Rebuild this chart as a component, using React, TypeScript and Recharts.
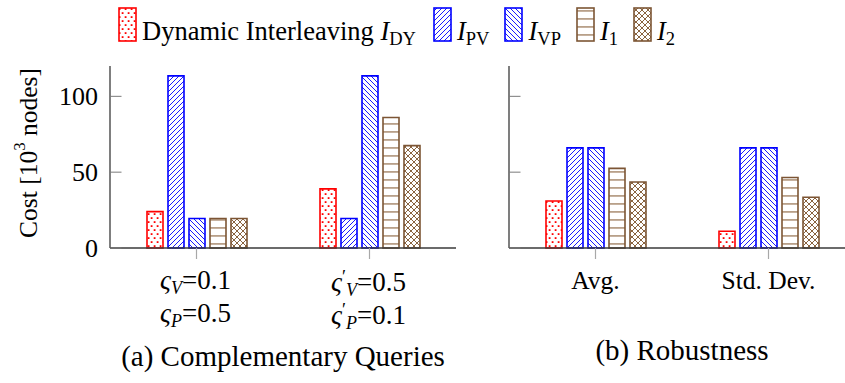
import React from 'react';
import { BarChart, Bar, XAxis, YAxis, Legend } from 'recharts';

// ---------- data ----------
const seriesKeys = ['dy', 'pv', 'vp', 'i1', 'i2'];
const seriesNames = ['Dynamic Interleaving I_DY', 'I_PV', 'I_VP', 'I_1', 'I_2'];

const compCategories = ['ςV=0.1 ςP=0.5', "ς'V=0.5 ς'P=0.1"];
const compDY = [24, 39];
const compPV = [113.5, 19.5];
const compVP = [19.5, 113.5];
const compI1 = [19.5, 86];
const compI2 = [19.5, 67.5];

const robCategories = ['Avg.', 'Std. Dev.'];
const robDY = [31, 11];
const robPV = [66, 66];
const robVP = [66, 66];
const robI1 = [52.5, 46.5];
const robI2 = [43.5, 33.5];

const yTicks = [0, 50, 100];
const yDomain = [0, 120];

// tick label pieces for the complementary-query categories
const compLabelLines = [
  [
    { prime: false, sub: 'V', val: '0.1' },
    { prime: false, sub: 'P', val: '0.5' },
  ],
  [
    { prime: true, sub: 'V', val: '0.5' },
    { prime: true, sub: 'P', val: '0.1' },
  ],
];

// ---------- styles ----------
const FONT = "'Liberation Serif', 'Times New Roman', Times, serif";
const RED = '#ff0000';
const BLUE = '#0000ff';
const BROWN = '#7c5534';
const seriesStroke = [RED, BLUE, BLUE, BROWN, BROWN];
const seriesFill = ['url(#pDots)', 'url(#pNE)', 'url(#pNW)', 'url(#pHoriz)', 'url(#pCross)'];
const AXIS = '#3a3a3a';
const YTICK = '#7a7a7a';
const XTICK = '#a8a8a8';

const compData = compCategories.map((c, i) => ({
  cat: c,
  dy: compDY[i],
  pv: compPV[i],
  vp: compVP[i],
  i1: compI1[i],
  i2: compI2[i],
}));

const robData = robCategories.map((c, i) => ({
  cat: c,
  dy: robDY[i],
  pv: robPV[i],
  vp: robVP[i],
  i1: robI1[i],
  i2: robI2[i],
}));

const Patterns = () => (
  <svg width={0} height={0} style={{ position: 'absolute', left: 0, top: 0 }}>
    <defs>
      <pattern id="pDots" patternUnits="userSpaceOnUse" width={6} height={8}>
        <rect width={6} height={8} fill="#fff" />
        <rect x={0.7} y={1.2} width={1.8} height={1.8} fill={RED} />
        <rect x={3.7} y={5.2} width={1.8} height={1.8} fill={RED} />
      </pattern>
      <pattern id="pNE" patternUnits="userSpaceOnUse" width={5} height={5}>
        <rect width={5} height={5} fill="#fff" />
        <path d="M-1,6 L6,-1 M-1,1 L1,-1 M4,6 L6,4" stroke={BLUE} strokeWidth={0.9} />
      </pattern>
      <pattern id="pNW" patternUnits="userSpaceOnUse" width={5} height={5}>
        <rect width={5} height={5} fill="#fff" />
        <path d="M-1,-1 L6,6 M-1,4 L1,6 M4,-1 L6,1" stroke={BLUE} strokeWidth={0.9} />
      </pattern>
      <pattern id="pHoriz" patternUnits="userSpaceOnUse" width={8} height={8}>
        <rect width={8} height={8} fill="#fff" />
        <rect x={0} y={3} width={8} height={1.8} fill="#b8a089" />
      </pattern>
      <pattern id="pCross" patternUnits="userSpaceOnUse" width={6} height={6}>
        <rect width={6} height={6} fill="#fff" />
        <path d="M-1,-1 L7,7 M-1,7 L7,-1" stroke="#8a6440" strokeWidth={1} />
      </pattern>
    </defs>
  </svg>
);

// ---------- ticks ----------
const LeftYTick = (props: any) => {
  const { x, y, payload, showLabel } = props;
  return (
    <g>
      <line x1={x} x2={x + 11.5} y1={y} y2={y} stroke={YTICK} strokeWidth={1} />
      {showLabel ? (
        <text x={x - 12} y={y} dy="0.35em" textAnchor="end" fontFamily={FONT} fontSize={26} fill="#000">
          {payload.value}
        </text>
      ) : null}
    </g>
  );
};

const RightYTick = (props: any) => {
  const { x, y } = props;
  return <line x1={x} x2={x - 11.5} y1={y} y2={y} stroke={YTICK} strokeWidth={1} />;
};

const TopXTick = (props: any) => {
  const { x, y } = props;
  return <line x1={x} x2={x} y1={y} y2={y - 11} stroke={XTICK} strokeWidth={1.2} />;
};

const sigmaLine = (piece: any, key: string, x: number, y: number) => (
  <text key={key} x={x} y={y} textAnchor="middle" fontFamily={FONT} fontSize={27} fill="#000">
    <tspan fontStyle="italic">ς</tspan>
    {piece.prime ? (
      <>
        <tspan fontSize={18} dy={-8}>′</tspan>
        <tspan fontStyle="italic" fontSize={18} dy={13}>{piece.sub}</tspan>
      </>
    ) : (
      <tspan fontStyle="italic" fontSize={18} dy={5}>{piece.sub}</tspan>
    )}
    <tspan dy={-5}>{'=' + piece.val}</tspan>
  </text>
);

const CompXTick = (props: any) => {
  const { x, y, payload } = props;
  const idx = payload.index ?? compCategories.indexOf(payload.value);
  const lines = compLabelLines[idx] || [];
  const extra = idx === 1 ? 2 : 0;
  return (
    <g>
      <line x1={x} x2={x} y1={y} y2={y + 11} stroke={XTICK} strokeWidth={1.2} />
      {lines.map((p: any, k: number) => sigmaLine(p, 'l' + k, x - 1, y + 41 + extra + k * 32.5))}
    </g>
  );
};

const RobXTick = (props: any) => {
  const { x, y, payload } = props;
  return (
    <g>
      <line x1={x} x2={x} y1={y} y2={y + 11} stroke={XTICK} strokeWidth={1.2} />
      <text x={x} y={y + 41} textAnchor="middle" fontFamily={FONT} fontSize={25.5} fill="#000">
        {payload.value}
      </text>
    </g>
  );
};

const yLabel = (props: any) => {
  const vb = props.viewBox || { x: 0, y: 66, width: 110, height: 182 };
  const cx = vb.x + 28;
  const cy = vb.y + vb.height / 2 - 4;
  return (
    <text
      x={cx}
      y={cy}
      transform={`rotate(-90 ${cx} ${cy})`}
      textAnchor="middle"
      dominantBaseline="central"
      fontFamily={FONT}
      fontSize={25.5}
      fill="#000"
    >
      Cost [10
      <tspan dy={-9} fontSize={17}>3</tspan>
      <tspan dy={9}> nodes]</tspan>
    </text>
  );
};

const captionLabel = (text: string, dyOff: number) => (props: any) => {
  const vb = props.viewBox || { x: 0, y: 248, width: 346, height: 135 };
  return (
    <text
      x={vb.x + vb.width / 2}
      y={vb.y + dyOff}
      textAnchor="middle"
      fontFamily={FONT}
      fontSize={29}
      fill="#000"
    >
      {text}
    </text>
  );
};

// ---------- legend ----------
const legendText = (i: number) => {
  const name = seriesNames[i];
  const [main, sub] = name.split('_');
  const prefix = main.slice(0, -1);
  return (
    <span style={{ fontFamily: FONT, fontSize: 26.5, color: '#000' }}>
      {prefix}
      <i>{main.slice(-1)}</i>
      <span style={{ fontSize: 18.5, position: 'relative', top: 5 }}>{sub}</span>
    </span>
  );
};

const LegendContent = () => (
  <div style={{ position: 'relative', whiteSpace: 'nowrap', lineHeight: '30px', paddingLeft: 118 }}>
    {seriesKeys.map((k, i) => (
      <span key={k} style={{ display: 'inline-block', marginRight: i === 0 ? 17 : 15 }}>
        <svg
          width={19}
          height={35}
          style={{ verticalAlign: 'baseline', marginBottom: -2, marginRight: 5 }}
        >
          <rect x={1} y={1} width={17} height={33} fill={seriesFill[i]} stroke={seriesStroke[i]} strokeWidth={1.6} />
        </svg>
        {legendText(i)}
      </span>
    ))}
  </div>
);

const renderBars = () =>
  seriesKeys.map((k, i) => (
    <Bar
      key={k}
      dataKey={k}
      name={seriesNames[i]}
      xAxisId="b"
      yAxisId="l"
      fill={seriesFill[i]}
      stroke={seriesStroke[i]}
      strokeWidth={1.6}
      isAnimationActive={false}
    />
  ));

export default function App() {
  return (
    <div
      style={{
        position: 'absolute',
        left: 0,
        top: 0,
        width: 845,
        height: 383,
        overflow: 'hidden',
        background: '#fff',
      }}
    >
      <Patterns />
      <div style={{ position: 'absolute', left: 0, top: 0 }}>
        <BarChart
          width={470}
          height={383}
          data={compData}
          margin={{ top: 66, right: 14, bottom: 0, left: 0 }}
          barSize={16}
          barGap={5}
        >
          <XAxis
            xAxisId="b"
            dataKey="cat"
            height={135}
            interval={0}
            tickSize={0}
            tickMargin={0}
            axisLine={{ stroke: AXIS, strokeWidth: 1.3 }}
            tick={<CompXTick />}
            label={captionLabel('(a) Complementary Queries', 118)}
          />
          <XAxis
            xAxisId="t"
            orientation="top"
            dataKey="cat"
            height={0}
            interval={0}
            tickSize={0}
            tickMargin={0}
            axisLine={{ stroke: AXIS, strokeWidth: 1.3 }}
            tick={<TopXTick />}
          />
          <YAxis
            yAxisId="l"
            width={110}
            domain={yDomain}
            ticks={yTicks}
            tickSize={0}
            tickMargin={0}
            axisLine={{ stroke: AXIS, strokeWidth: 1.3 }}
            tick={<LeftYTick showLabel />}
            label={yLabel}
          />
          <YAxis
            yAxisId="r"
            orientation="right"
            width={0}
            domain={yDomain}
            ticks={yTicks}
            tickSize={0}
            tickMargin={0}
            axisLine={{ stroke: AXIS, strokeWidth: 1.3 }}
            tick={<RightYTick />}
          />
          <Legend
            layout="horizontal"
            verticalAlign="middle"
            align="center"
            content={<LegendContent />}
            wrapperStyle={{ position: 'absolute', left: 0, top: 7, width: 845, height: 40, zIndex: 5 }}
          />
          {renderBars()}
        </BarChart>
      </div>
      <div style={{ position: 'absolute', left: 455, top: 0 }}>
        <BarChart
          width={400}
          height={383}
          data={robData}
          margin={{ top: 66, right: 0, bottom: 0, left: 0 }}
          barSize={16}
          barGap={5}
        >
          <XAxis
            xAxisId="b"
            dataKey="cat"
            height={135}
            interval={0}
            tickSize={0}
            tickMargin={0}
            axisLine={{ stroke: AXIS, strokeWidth: 1.3 }}
            tick={<RobXTick />}
            label={captionLabel('(b) Robustness', 112)}
          />
          <XAxis
            xAxisId="t"
            orientation="top"
            dataKey="cat"
            height={0}
            interval={0}
            tickSize={0}
            tickMargin={0}
            axisLine={{ stroke: AXIS, strokeWidth: 1.3 }}
            tick={<TopXTick />}
          />
          <YAxis
            yAxisId="l"
            width={54}
            domain={yDomain}
            ticks={yTicks}
            tickSize={0}
            tickMargin={0}
            axisLine={{ stroke: AXIS, strokeWidth: 1.3 }}
            tick={<LeftYTick showLabel={false} />}
          />
          <YAxis
            yAxisId="r"
            orientation="right"
            width={0}
            domain={yDomain}
            ticks={yTicks}
            tickSize={0}
            tickMargin={0}
            axisLine={{ stroke: AXIS, strokeWidth: 1.3 }}
            tick={<RightYTick />}
          />
          {renderBars()}
        </BarChart>
      </div>
    </div>
  );
}
